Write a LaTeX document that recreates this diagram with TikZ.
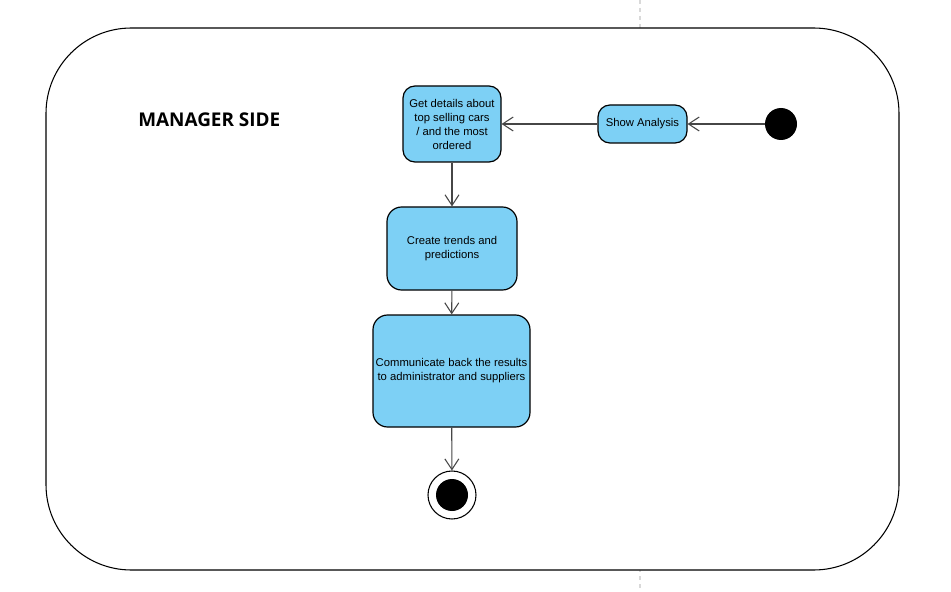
\documentclass[tikz,border=0pt]{standalone}
\usepackage{fontspec}
\setmainfont{Liberation Sans}
\newfontfamily\titlefont{Open Sans}
\usetikzlibrary{arrows.meta}
\definecolor{actfill}{RGB}{125,208,245}
\definecolor{linegray}{RGB}{70,70,70}
\begin{document}
\begin{tikzpicture}[x=0.75pt,y=-0.75pt,
  act/.style={draw=black,line width=0.9pt,fill=actfill,rounded corners=9pt,align=center,
    font=\fontsize{8.45}{10.5}\selectfont,inner sep=1pt},
  flow/.style={draw=linegray,line width=0.8pt,-{Straight Barb[length=8pt,width=10.5pt,line width=0.8pt]}}]
\useasboundingbox (0,0) rectangle (951,592);
\draw[gray!30,line width=0.8pt,dash pattern=on 3pt off 3pt] (640,0) -- (640,592);
\draw[black,line width=0.8pt,fill=white,rounded corners=64pt] (46,28) rectangle (899,570);
\node[font=\titlefont\bfseries\fontsize{14.2}{16}\selectfont,anchor=west,inner sep=0pt] (title) at (138,120) {MANAGER SIDE};
\node[act,minimum width=73.5pt,minimum height=57pt] (get) at (452,124) {Get details about\\top selling cars\\/ and the most\\ordered};
\node[act,minimum width=66.75pt,minimum height=28.5pt] (show) at (642.5,124) {Show Analysis};
\node[circle,fill=black,minimum size=24pt,inner sep=0pt] (start) at (781,124) {};
\node[act,rounded corners=11pt,minimum width=97.5pt,minimum height=62.25pt] (trend) at (452,248.5) {Create trends and\\predictions};
\node[act,rounded corners=11pt,minimum width=117.75pt,minimum height=84pt] (comm) at (451.5,371) {Communicate back the results\\to administrator and suppliers};
\node[circle,draw=black,line width=0.8pt,fill=white,minimum size=36pt,inner sep=0pt] (end) at (452,495) {};
\node[circle,fill=black,minimum size=24pt,inner sep=0pt] (endin) at (end.center) {};
\draw[flow] (start) -- (show);
\draw[flow] (show) -- (get);
\draw[flow] (get) -- (trend);
\draw[flow] (trend) -- (comm);
\draw[flow] (comm) -- (end);
\end{tikzpicture}
\end{document}
